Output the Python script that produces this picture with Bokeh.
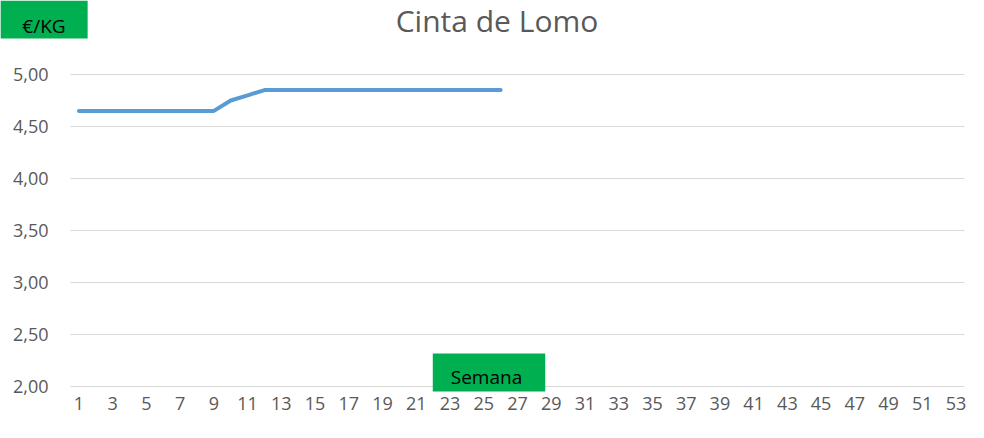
from bokeh.plotting import figure
from bokeh.models import Range1d, FixedTicker, CustomJSTickFormatter, Label, LinearAxis
from bokeh.embed import file_html
from bokeh.resources import INLINE

# ---- data ----
title_text = "Cinta de Lomo"
y_unit_label = "€/KG"
x_unit_label = "Semana"

weeks = [1, 2, 3, 4, 5, 6, 7, 8, 9, 10, 11, 12, 13, 14, 15, 16, 17, 18, 19, 20, 21, 22, 23, 24, 25, 26]
prices = [4.65, 4.65, 4.65, 4.65, 4.65, 4.65, 4.65, 4.65, 4.65, 4.75, 4.80, 4.85, 4.85, 4.85,
          4.85, 4.85, 4.85, 4.85, 4.85, 4.85, 4.85, 4.85, 4.85, 4.85, 4.85, 4.85]
x_ticks = [1, 3, 5, 7, 9, 11, 13, 15, 17, 19, 21, 23, 25, 27, 29, 31, 33, 35, 37, 39, 41, 43, 45, 47, 49, 51, 53]
y_ticks = [2.0, 2.5, 3.0, 3.5, 4.0, 4.5, 5.0]

# ---- layout constants ----
W, H = 968, 422
FONT = "Open Sans"
GREY = "#595959"
GREEN = "#00B050"
TXT_SHIFT = 13  # empirical correction for label baseline placement (px)

# plot-area extent in data units and where it should sit on the canvas (px)
x_lo, x_hi = 0.5, 53.5
y_lo, y_hi = 2.0, 5.0
px_left, px_right, px_top, px_bottom = 70, 964, 74, 386

sx = (px_right - px_left) / (x_hi - x_lo)
sy = (px_bottom - px_top) / (y_hi - y_lo)
x_range = Range1d(x_lo - px_left / sx, x_hi + (W - px_right) / sx)
y_range = Range1d(y_lo - (H - px_bottom) / sy, y_hi + px_top / sy)

def dx(px):
    return x_lo + (px - px_left) / sx

def dy(py):
    return y_hi + (px_top - py) / sy

p = figure(width=W, height=H, output_backend="svg", toolbar_location=None,
           x_range=x_range, y_range=y_range, min_border=0,
           x_axis_type=None, y_axis_type=None)
p.outline_line_color = None
p.background_fill_color = "white"
p.border_fill_color = "white"
p.title.visible = False
p.grid.visible = False

# horizontal gridlines at the y ticks, spanning the plot area
p.segment(x0=[x_lo] * len(y_ticks), x1=[x_hi] * len(y_ticks), y0=y_ticks, y1=y_ticks,
          line_color="#D9D9D9", line_width=1)

# axes fixed at the plot-area edges
xax = LinearAxis(fixed_location=y_lo, ticker=FixedTicker(ticks=x_ticks))
yax = LinearAxis(fixed_location=x_lo, ticker=FixedTicker(ticks=y_ticks),
                 formatter=CustomJSTickFormatter(code="return tick.toFixed(2).replace('.', ',');"))
for ax in (xax, yax):
    ax.axis_line_color = None
    ax.major_tick_line_color = None
    ax.minor_tick_line_color = None
    ax.major_tick_out = 0
    ax.major_tick_in = 0
    ax.minor_tick_out = 0
    ax.minor_tick_in = 0
    ax.major_label_text_font = FONT
    ax.major_label_text_font_size = "18px"
    ax.major_label_text_color = GREY
xax.major_label_standoff = 10
yax.major_label_standoff = 22
p.add_layout(xax, "below")
p.add_layout(yax, "left")

p.line(weeks, prices, line_color="#5B9BD5", line_width=4, line_cap="round", line_join="round")

p.add_layout(Label(x=dx(496.5), y=dy(33 - TXT_SHIFT), text=title_text, text_font=FONT,
                   text_font_size="30px", text_color=GREY, text_align="center",
                   text_baseline="alphabetic"))

p.add_layout(Label(x=dx(43.5), y=dy(32 - TXT_SHIFT), text=y_unit_label, text_font=FONT,
                   text_font_size="19px", text_color="black", text_align="center",
                   text_baseline="alphabetic", background_fill_color=GREEN,
                   padding=dict(left=22, right=22, top=12, bottom=0)))

p.add_layout(Label(x=dx(488.5), y=dy(385 - TXT_SHIFT), text=x_unit_label, text_font=FONT,
                   text_font_size="19px", text_color="black", text_align="center",
                   text_baseline="alphabetic", background_fill_color=GREEN,
                   padding=dict(left=18, right=23, top=10, bottom=2)))

open("out.html", "w").write(file_html(p, INLINE))
